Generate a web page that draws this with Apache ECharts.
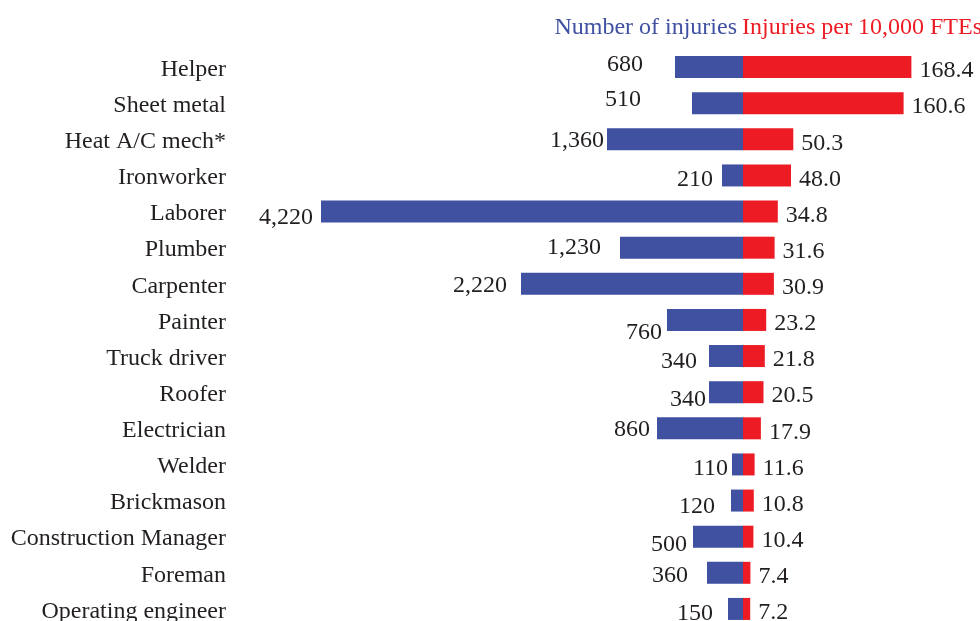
<!DOCTYPE html>
<html>
<head>
<meta charset="utf-8">
<script src="https://cdn.jsdelivr.net/npm/echarts@6/dist/echarts.min.js"></script>
<style>
  html, body { margin: 0; padding: 0; background: #fff; }
  #chart1 { width: 980px; height: 621px; }
</style>
</head>
<body>
<div id="chart1"></div>
<script>
// chart data
var categories = ['Helper', 'Sheet metal', 'Heat A/C mech*', 'Ironworker', 'Laborer', 'Plumber',
    'Carpenter', 'Painter', 'Truck driver', 'Roofer', 'Electrician', 'Welder', 'Brickmason',
    'Construction Manager', 'Foreman', 'Operating engineer'];
var injuries = [680, 510, 1360, 210, 4220, 1230, 2220, 760, 340, 340, 860, 110, 120, 500, 360, 150];
var ratePer10k = [168.4, 160.6, 50.3, 48.0, 34.8, 31.6, 30.9, 23.2, 21.8, 20.5, 17.9, 11.6, 10.8, 10.4, 7.4, 7.2];

// label nudges so the counts sit where they do in the original (gap left of bar, vertical shift)
var countLabelGap = [32, 51, 3, 9, 8, 19, 14, 5, 12, 3, 7, 4, 16, 6, 19, 15];
var countLabelDy = [-2, -3, 1, 4, 6, 0, 2, 13, 6, 8, 1, 4, 6, 8, 3, 5];

var BLUE = '#4051a2';
var RED = '#ed1c24';
var INK = '#231f20';
var FONT = '"Liberation Serif", "Times New Roman", serif';

var myChart = echarts.init(document.getElementById('chart1'));

var countData = [];
for (var i = 0; i < injuries.length; i++) {
    countData.push({
        value: -injuries[i],
        label: { offset: [-countLabelGap[i], countLabelDy[i]] }
    });
}

option = {
    animation: false,
    backgroundColor: '#fff',
    title: [
        {
            text: 'Number of injuries',
            right: 243, top: 16, padding: 0,
            textStyle: { color: BLUE, fontSize: 24, fontWeight: 'normal', fontFamily: FONT }
        },
        {
            text: 'Injuries per 10,000 FTEs',
            left: 742, top: 16, padding: 0,
            textStyle: { color: RED, fontSize: 24, fontWeight: 'normal', fontFamily: FONT }
        }
    ],
    grid: { left: 243, right: 0, top: 49, height: 578, outerBoundsMode: 'none' },
    xAxis: [
        { type: 'value', min: -5000, max: 2370, show: false },
        { type: 'value', min: -500, max: 237, show: false }
    ],
    yAxis: {
        type: 'category',
        inverse: true,
        data: categories,
        axisLine: { show: false },
        axisTick: { show: false },
        splitLine: { show: false },
        axisLabel: {
            margin: 17,
            color: INK,
            fontSize: 24,
            fontFamily: FONT,
            formatter: '{c|{value}}',
            rich: { c: { padding: [5, 0, 0, 0], color: INK, fontSize: 24, fontFamily: FONT } }
        }
    },
    series: [
        {
            name: 'Number of injuries',
            type: 'bar',
            xAxisIndex: 0,
            barWidth: 22,
            barGap: '-100%',
            itemStyle: { color: BLUE },
            label: {
                show: true,
                position: 'left',
                distance: 0,
                color: INK,
                fontSize: 24,
                fontFamily: FONT,
                formatter: function (p) { return Math.abs(p.value).toLocaleString('en-US'); }
            },
            data: countData
        },
        {
            name: 'Injuries per 10,000 FTEs',
            type: 'bar',
            xAxisIndex: 1,
            barWidth: 22,
            barGap: '-100%',
            itemStyle: { color: RED },
            label: {
                show: true,
                position: 'right',
                distance: 8,
                offset: [0, 4],
                color: INK,
                fontSize: 24,
                fontFamily: FONT,
                formatter: function (p) { return p.value.toFixed(1); }
            },
            data: ratePer10k
        }
    ]
};
myChart.setOption(option);
</script>
</body>
</html>
